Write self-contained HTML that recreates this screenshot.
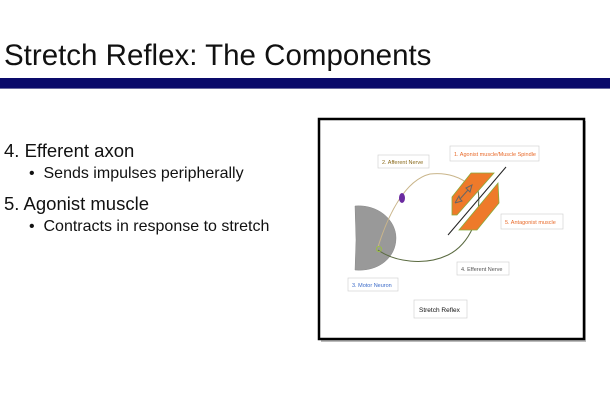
<!DOCTYPE html>
<html><head><style>
body{margin:0;width:610px;height:400px;background:#fff;position:relative;overflow:hidden;font-family:"Liberation Sans",sans-serif;}
.t{position:absolute;white-space:nowrap;color:#111;}
</style></head><body>
<div class="t" style="left:4px;top:39px;font-size:29.5px;">Stretch Reflex: The Components</div>
<div style="position:absolute;left:0;top:78px;width:610px;height:10px;background:#0a0a6a;border-bottom:1px solid #6a6aa0;"></div>
<div class="t" style="left:4px;top:140px;font-size:18.5px;">4. Efferent axon</div>
<div class="t" style="left:29px;top:165px;font-size:16px;">•&nbsp; Sends impulses peripherally</div>
<div class="t" style="left:4px;top:193px;font-size:18.5px;">5. Agonist muscle</div>
<div class="t" style="left:29px;top:218px;font-size:16px;">•&nbsp; Contracts in response to stretch</div>
<svg style="position:absolute;left:0;top:0" width="610" height="400" font-family="Liberation Sans, sans-serif">
<rect x="321" y="121" width="265" height="221" fill="#bbb"/>
<rect x="319" y="119" width="265" height="220" fill="#fff" stroke="#000" stroke-width="2.5"/>
<path d="M355,206 C378,204 396,220 396,238 C396,258 378,272 355,270 L356,240 Z" fill="#999" stroke="#888" stroke-width="0.5"/>
<path d="M378,247 C388,215 405,180 430,174 C448,172 462,178 469,185" fill="none" stroke="#c9b58a" stroke-width="1"/>
<path d="M378,250 C395,262 425,266 448,255 C470,244 482,215 478,190" fill="none" stroke="#5a6a40" stroke-width="1"/>
<polygon points="452,197 471,173 494,173 457,215 452,215" fill="#ee7a2a" stroke="#8aaa3a" stroke-width="0.8"/>
<polygon points="498,183 499,203 477,230 459,230" fill="#ee7a2a" stroke="#8aaa3a" stroke-width="0.8"/>
<line x1="448" y1="235" x2="506" y2="167" stroke="#222" stroke-width="1"/>
<path d="M455,203 L459,196 L460,199 L468,190 L466,188 L472,185 L470,192 L468,190 M460,199 L462,201 L455,203" fill="none" stroke="#666" stroke-width="1"/>
<ellipse cx="402" cy="198" rx="3" ry="5" fill="#6a2aa0"/>
<circle cx="379" cy="249" r="2.5" fill="none" stroke="#9ac040" stroke-width="1"/>
<g font-size="5.5">
<rect x="378" y="155" width="51" height="13" fill="#fff" stroke="#ccc" stroke-width="0.6"/><text x="382" y="164" fill="#8a6a1a">2. Afferent Nerve</text>
<rect x="450" y="146" width="89" height="15" fill="#fff" stroke="#ccc" stroke-width="0.6"/><text x="454" y="156" fill="#e86a2a">1. Agonist muscle/Muscle Spindle</text>
<rect x="501" y="214" width="62" height="15" fill="#fff" stroke="#ccc" stroke-width="0.6"/><text x="505" y="224" fill="#e86a2a">5. Antagonist muscle</text>
<rect x="457" y="262" width="52" height="13" fill="#fff" stroke="#ccc" stroke-width="0.6"/><text x="461" y="271" fill="#555">4. Efferent Nerve</text>
<rect x="348" y="278" width="50" height="13" fill="#fff" stroke="#ccc" stroke-width="0.6"/><text x="352" y="287" fill="#3a6ac8">3. Motor Neuron</text>
<rect x="414" y="300" width="53" height="18" fill="#fff" stroke="#ccc" stroke-width="0.6"/><text x="419" y="312" fill="#111" font-size="6.5">Stretch Reflex</text>
</g>
</svg>
</body></html>
